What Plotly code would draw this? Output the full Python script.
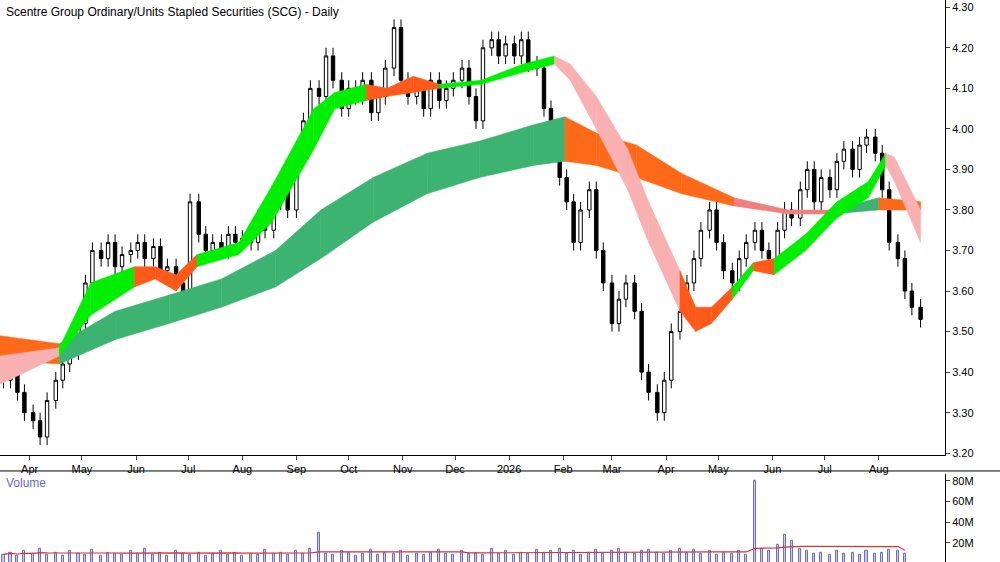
import plotly.graph_objects as go
from plotly.subplots import make_subplots
import pandas as pd
import numpy as np

closes = [3.38, 3.42, 3.35, 3.30,
 3.28, 3.24, 3.33, 3.38, 3.42, 3.45, 3.52,
 3.62, 3.70, 3.68, 3.72, 3.66, 3.69, 3.70,
 3.72, 3.68, 3.71, 3.65, 3.66, 3.62, 3.58,
 3.82, 3.74, 3.70, 3.72, 3.70, 3.74, 3.72,
 3.73, 3.72, 3.78, 3.75, 3.82, 3.85, 3.80,
 3.95, 4.02, 4.10, 4.08, 4.18, 4.12, 4.05,
 4.10, 4.08, 4.12, 4.04, 4.08, 4.15, 4.25,
 4.12, 4.08, 4.10, 4.05, 4.12, 4.07, 4.10,
 4.12, 4.15, 4.08, 4.02, 4.20, 4.22, 4.18,
 4.21, 4.18, 4.22, 4.16, 4.15, 4.05, 3.95,
 3.88, 3.82, 3.72, 3.80, 3.85, 3.70, 3.62,
 3.52, 3.58, 3.62, 3.55, 3.40, 3.35, 3.30,
 3.38, 3.50, 3.55, 3.62, 3.68, 3.75, 3.80,
 3.72, 3.65, 3.62, 3.68, 3.72, 3.75, 3.70,
 3.68, 3.75, 3.80, 3.78, 3.85, 3.90, 3.82,
 3.88, 3.85, 3.92, 3.95, 3.90, 3.96, 3.98,
 3.94, 3.85, 3.72, 3.68, 3.60, 3.56, 3.53]

volumes = [9, 11, 8, 12, 10, 14, 9, 11, 8, 12, 10,
 9, 13, 8, 11, 10, 9, 12, 10, 14, 9, 11, 8, 12,
 10, 9, 11, 8, 10, 12, 9, 11, 8, 10, 9, 13, 10,
 11, 9, 12, 10, 14, 30, 10, 9, 12, 11, 8, 10, 13,
 9, 11, 10, 12, 8, 10, 9, 11, 13, 10, 9, 12, 10,
 11, 9, 14, 10, 12, 9, 11, 10, 13, 11, 12, 14, 10,
 12, 9, 11, 13, 10, 12, 14, 11, 10, 12, 13, 11, 10,
 12, 14, 11, 13, 10, 12, 9, 11, 10, 12, 9, 80, 14,
 12, 18, 28, 22, 14, 12, 10, 11, 9, 12, 10, 11, 9,
 12, 10, 11, 13, 12, 10]

long_dates = ["2025-03-15", "2025-04-18", "2025-05-20", "2025-06-20", "2025-07-20",
 "2025-08-20", "2025-09-15", "2025-10-15", "2025-11-15", "2025-12-15", "2026-01-15",
 "2026-02-02", "2026-02-20", "2026-03-15", "2026-04-10", "2026-05-10", "2026-06-10",
 "2026-07-05", "2026-08-01", "2026-08-25"]
long_a = [3.43, 3.42, 3.48, 3.52, 3.56, 3.61, 3.68, 3.77, 3.84, 3.88, 3.91, 3.92,
 3.91, 3.88, 3.84, 3.81, 3.79, 3.79, 3.80, 3.80]
long_b = [3.49, 3.47, 3.55, 3.59, 3.63, 3.70, 3.80, 3.88, 3.94, 3.97, 4.01, 4.03,
 3.99, 3.96, 3.89, 3.83, 3.80, 3.80, 3.83, 3.82]
long_colors = ["#ff6a1a"] + ["#3cb371"] * 10 + ["#ff6a1a"] * 4 + ["#f08080", "#f08080", "#3cb371", "#ff6a1a"]

short_dates = ["2025-03-15", "2025-04-18", "2025-05-06", "2025-05-31", "2025-06-12",
 "2025-06-24", "2025-07-06", "2025-07-30", "2025-08-18", "2025-09-11", "2025-09-23",
 "2025-10-11", "2025-10-23", "2025-11-07", "2025-11-22", "2025-12-16", "2026-01-09",
 "2026-01-27", "2026-02-05", "2026-02-20", "2026-03-10", "2026-03-22", "2026-04-09",
 "2026-04-18", "2026-04-27", "2026-05-09", "2026-05-21", "2026-06-02", "2026-06-20",
 "2026-07-08", "2026-07-26", "2026-08-05", "2026-08-10", "2026-08-25"]
short_a = [3.37, 3.44, 3.54, 3.61, 3.63, 3.60, 3.66, 3.69, 3.77, 3.95, 4.05, 4.07,
 4.08, 4.09, 4.10, 4.11, 4.14, 4.16, 4.12, 4.00, 3.85, 3.72, 3.55, 3.50, 3.52,
 3.58, 3.65, 3.64, 3.70, 3.78, 3.83, 3.91, 3.87, 3.72]
short_b = [3.44, 3.46, 3.62, 3.66, 3.66, 3.64, 3.69, 3.72, 3.86, 4.05, 4.09, 4.11,
 4.10, 4.13, 4.11, 4.12, 4.16, 4.18, 4.16, 4.08, 3.95, 3.82, 3.65, 3.56, 3.56,
 3.61, 3.67, 3.68, 3.74, 3.82, 3.87, 3.94, 3.93, 3.80]
G, O, P = "#00ee00", "#ff5a1a", "#f9b0b0"
short_colors = [P, G, G, O, O, O, G, G, G, G, G, O, O, O, G, G, G, P, P, P, P, P,
 O, O, O, G, O, G, G, G, G, P, P]

price_ticks = [3.20, 3.30, 3.40, 3.50, 3.60, 3.70, 3.80, 3.90, 4.00, 4.10, 4.20, 4.30]
month_ticks = ["2025-04-01", "2025-05-01", "2025-06-01", "2025-07-01", "2025-08-01",
 "2025-09-01", "2025-10-01", "2025-11-01", "2025-12-01", "2026-01-01", "2026-02-01",
 "2026-03-01", "2026-04-01", "2026-05-01", "2026-06-01", "2026-07-01", "2026-08-01"]
month_labels = ["Apr", "May", "Jun", "Jul", "Aug", "Sep", "Oct", "Nov", "Dec", "2026",
 "Feb", "Mar", "Apr", "May", "Jun", "Jul", "Aug"]

n = len(closes)
start, end = pd.Timestamp("2025-03-17"), pd.Timestamp("2026-08-25")
dates = pd.to_datetime(np.linspace(start.value, end.value, n)).normalize()
opens = [closes[0]] + closes[:-1]
highs = [max(o, c) + 0.02 for o, c in zip(opens, closes)]
lows = [min(o, c) - 0.02 for o, c in zip(opens, closes)]

fig = make_subplots(rows=2, cols=1, shared_xaxes=True, row_heights=[0.81, 0.16], vertical_spacing=0.03)

def ribbon(ds, a, b, cols):
    ds = pd.to_datetime(ds)
    for i, col in enumerate(cols):
        xs = [ds[i], ds[i + 1], ds[i + 1], ds[i], ds[i]]
        ys = [a[i], a[i + 1], b[i + 1], b[i], a[i]]
        fig.add_trace(go.Scatter(x=xs, y=ys, fill="toself", fillcolor=col, mode="lines",
                                 line=dict(width=0.5, color=col), hoverinfo="skip", showlegend=False), 1, 1)

ribbon(long_dates, long_a, long_b, long_colors)
ribbon(short_dates, short_a, short_b, short_colors)

fig.add_trace(go.Candlestick(x=dates, open=opens, high=highs, low=lows, close=closes,
    increasing=dict(line=dict(color="black", width=1), fillcolor="white"),
    decreasing=dict(line=dict(color="black", width=1), fillcolor="black"),
    whiskerwidth=0, showlegend=False), 1, 1)

fig.add_trace(go.Bar(x=dates, y=volumes, marker=dict(color="#c8c8ee", line=dict(color="#7070c0", width=1)),
                     width=86400000 * 1.2, showlegend=False), 2, 1)
vma = pd.Series(volumes).rolling(20, min_periods=1).mean()
fig.add_trace(go.Scatter(x=dates, y=vma, mode="lines", line=dict(color="#e03030", width=1.2),
                         showlegend=False), 2, 1)

fig.update_layout(width=1000, height=562, margin=dict(l=0, r=0, t=0, b=0, autoexpand=False),
    plot_bgcolor="white", paper_bgcolor="white", font=dict(family="Liberation Sans", size=11, color="black"),
    bargap=0)
xr = ["2025-03-15", "2026-09-08"]
fig.update_xaxes(domain=[0, 0.945], range=xr, showgrid=False, rangeslider_visible=False, automargin=False)
fig.update_xaxes(row=1, col=1, tickvals=month_ticks, ticktext=month_labels, showticklabels=True,
                 ticks="outside", ticklen=4, showline=True, linecolor="black", mirror=False)
fig.update_xaxes(row=2, col=1, showticklabels=False, showline=True, linecolor="black")
fig.update_yaxes(row=1, col=1, domain=[0.19, 1], range=[3.195, 4.318], side="right",
                 tickvals=price_ticks, ticktext=[f"{v:.2f}" for v in price_ticks],
                 showgrid=False, showline=True, linecolor="black", ticks="outside", ticklen=4,
                 zeroline=False, automargin=False, ticklabeloverflow="allow")
fig.update_yaxes(row=2, col=1, domain=[0, 0.157], range=[1.6, 86.8], side="right", tickvals=[20, 40, 60, 80],
                 ticktext=["20M", "40M", "60M", "80M"], showgrid=False, showline=True, linecolor="black",
                 ticks="outside", ticklen=4, zeroline=False, automargin=False)
fig.add_annotation(x=0.004, y=0.995, xref="paper", yref="paper", xanchor="left", yanchor="top",
                   text="Scentre Group Ordinary/Units Stapled Securities (SCG) - Daily", showarrow=False,
                   font=dict(size=12))
fig.add_annotation(x=0.004, y=0.157, xref="paper", yref="paper", xanchor="left", yanchor="top",
                   text="Volume", showarrow=False, font=dict(size=12, color="#6a6acd"))
fig.add_shape(type="line", xref="paper", yref="paper", x0=0, x1=1, y0=0.162, y1=0.162,
              line=dict(color="black", width=1))
fig.write_html("out.html", config={"displayModeBar": False},
               post_script="document.body.style.margin='0';")
